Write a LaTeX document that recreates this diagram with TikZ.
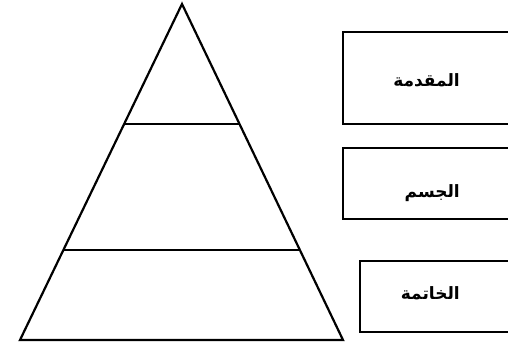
\documentclass[tikz,border=0pt]{standalone}
\usepackage{fontspec}
\newfontfamily\arabicfont[Script=Arabic]{DejaVu Sans}
\TeXXeTstate=1
\usetikzlibrary{positioning, calc}

\begin{document}
\begin{tikzpicture}[x=1pt, y=1pt]
	\tikzstyle{Box} = [rectangle, draw=black, line width=2.2pt, minimum width=172pt, minimum height=71pt]
	\tikzstyle{Label} = [anchor=east, inner sep=0pt, font=\arabicfont\bfseries\fontsize{17}{20}\selectfont]
	\tikzstyle{Edge} = [line width=2.2pt, line join=miter]
	\tikzstyle{Layer} = [line width=1.4pt]

	\path[use as bounding box, clip] (0,0) rectangle (508,344);

	\coordinate (apex) at (182,340);
	\coordinate (baseLeft) at (20,4);
	\coordinate (baseRight) at (343,4);

	\draw[Edge] (apex) -- (baseLeft) -- (baseRight) -- cycle;

	\coordinate (topLeft) at ($(apex)!0.357!(baseLeft)$);
	\coordinate (topRight) at ($(apex)!0.357!(baseRight)$);
	\coordinate (midLeft) at ($(apex)!0.732!(baseLeft)$);
	\coordinate (midRight) at ($(apex)!0.732!(baseRight)$);

	\draw[Layer] (topLeft) -- (topRight);
	\draw[Layer] (midLeft) -- (midRight);

	\node (introBox) [Box, minimum height=92pt] at (429,266) {};
	\node (bodyBox) [Box] at (429,160.5) {};
	\node (endBox) [Box, minimum width=155pt] at (437.5,47.5) {};

	\node (intro) [Label] at (460,264) {\beginR المقدمة\endR};
	\node (body) [Label] at (460,151) {\beginR الجسم\endR};
	\node (conclusion) [Label] at (460,51) {\beginR الخاتمة\endR};
\end{tikzpicture}
\end{document}
